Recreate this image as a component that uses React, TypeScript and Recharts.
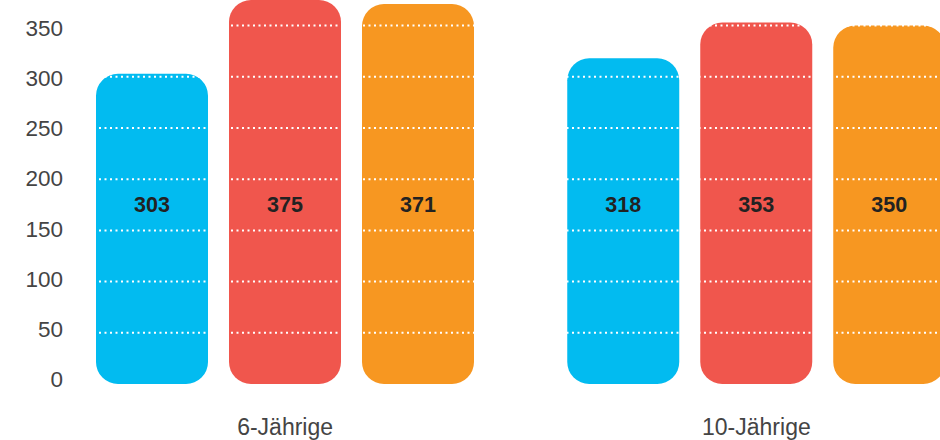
import React from "react";
import { BarChart, Bar, XAxis, YAxis, ReferenceLine, LabelList } from "recharts";

const categories = ["6-Jährige", "10-Jährige"];
const seriesBlue = [303, 318];
const seriesRed = [375, 353];
const seriesOrange = [371, 350];
const yTicks = [0, 50, 100, 150, 200, 250, 300, 350];
const gridValues = [50, 100, 150, 200, 250, 300, 350];
const labelLevel = 175;

const data = categories.map((c, i) => ({
  name: c,
  blue: seriesBlue[i],
  red: seriesRed[i],
  orange: seriesOrange[i],
}));

const FONT = "'Liberation Sans', Arial, Helvetica, sans-serif";

const YTick = (props: any) => {
  const { x, y, payload } = props;
  return (
    <text x={x + 13.5} y={y} textAnchor="end" dominantBaseline="central" fontFamily={FONT} fontSize={22.5} fill="#444">
      {payload.value}
    </text>
  );
};

const XTick = (props: any) => {
  const { x, y, payload } = props;
  return (
    <text x={x} y={y + 43} textAnchor="middle" dominantBaseline="central" fontFamily={FONT} fontSize={23} fill="#444">
      {payload.value}
    </text>
  );
};

const ValueLabel = (props: any) => {
  const vb = props.viewBox && props.viewBox.width !== undefined ? props.viewBox : props;
  const { x, y, width, height } = vb;
  const value = Number(props.value);
  if (!value || height === undefined) return null;
  const bottom = y + height;
  const scale = height / value;
  const cy = bottom - labelLevel * scale;
  return (
    <text x={x + width / 2} y={cy} textAnchor="middle" dominantBaseline="central" fontFamily={FONT} fontSize={21.5} fontWeight={600} fill="#222">
      {value}
    </text>
  );
};

const radius: [number, number, number, number] = [22, 22, 22, 22];

export default function App() {
  return (
    <div style={{ position: "fixed", left: 0, top: 0, width: 940, height: 440, overflow: "hidden", background: "#fff" }}>
      <BarChart
        width={992}
        height={440}
        data={data}
        margin={{ top: 0, right: 0, left: 0, bottom: 0 }}
        barCategoryGap={46.5}
        barGap={21}
      >
        <XAxis dataKey="name" height={56} axisLine={false} tickLine={false} tickSize={0} tickMargin={0} tick={<XTick />} interval={0} />
        <YAxis yAxisId="main" hide domain={[0, 375]} />
        <YAxis yAxisId="labels" width={49.5} domain={[-4, 378]} allowDataOverflow ticks={yTicks} axisLine={false} tickLine={false} tickSize={0} tickMargin={0} tick={<YTick />} interval={0} />
        <Bar yAxisId="main" dataKey="blue" fill="#02BBF0" radius={radius} isAnimationActive={false}>
          <LabelList dataKey="blue" content={<ValueLabel />} />
        </Bar>
        <Bar yAxisId="main" dataKey="red" fill="#F0564D" radius={radius} isAnimationActive={false}>
          <LabelList dataKey="red" content={<ValueLabel />} />
        </Bar>
        <Bar yAxisId="main" dataKey="orange" fill="#F79721" radius={radius} isAnimationActive={false}>
          <LabelList dataKey="orange" content={<ValueLabel />} />
        </Bar>
        {gridValues.map((v) => (
          <ReferenceLine key={v} yAxisId="main" y={v} stroke="#ffffff" strokeWidth={2} strokeDasharray="2 3.5" />
        ))}
      </BarChart>
    </div>
  );
}
